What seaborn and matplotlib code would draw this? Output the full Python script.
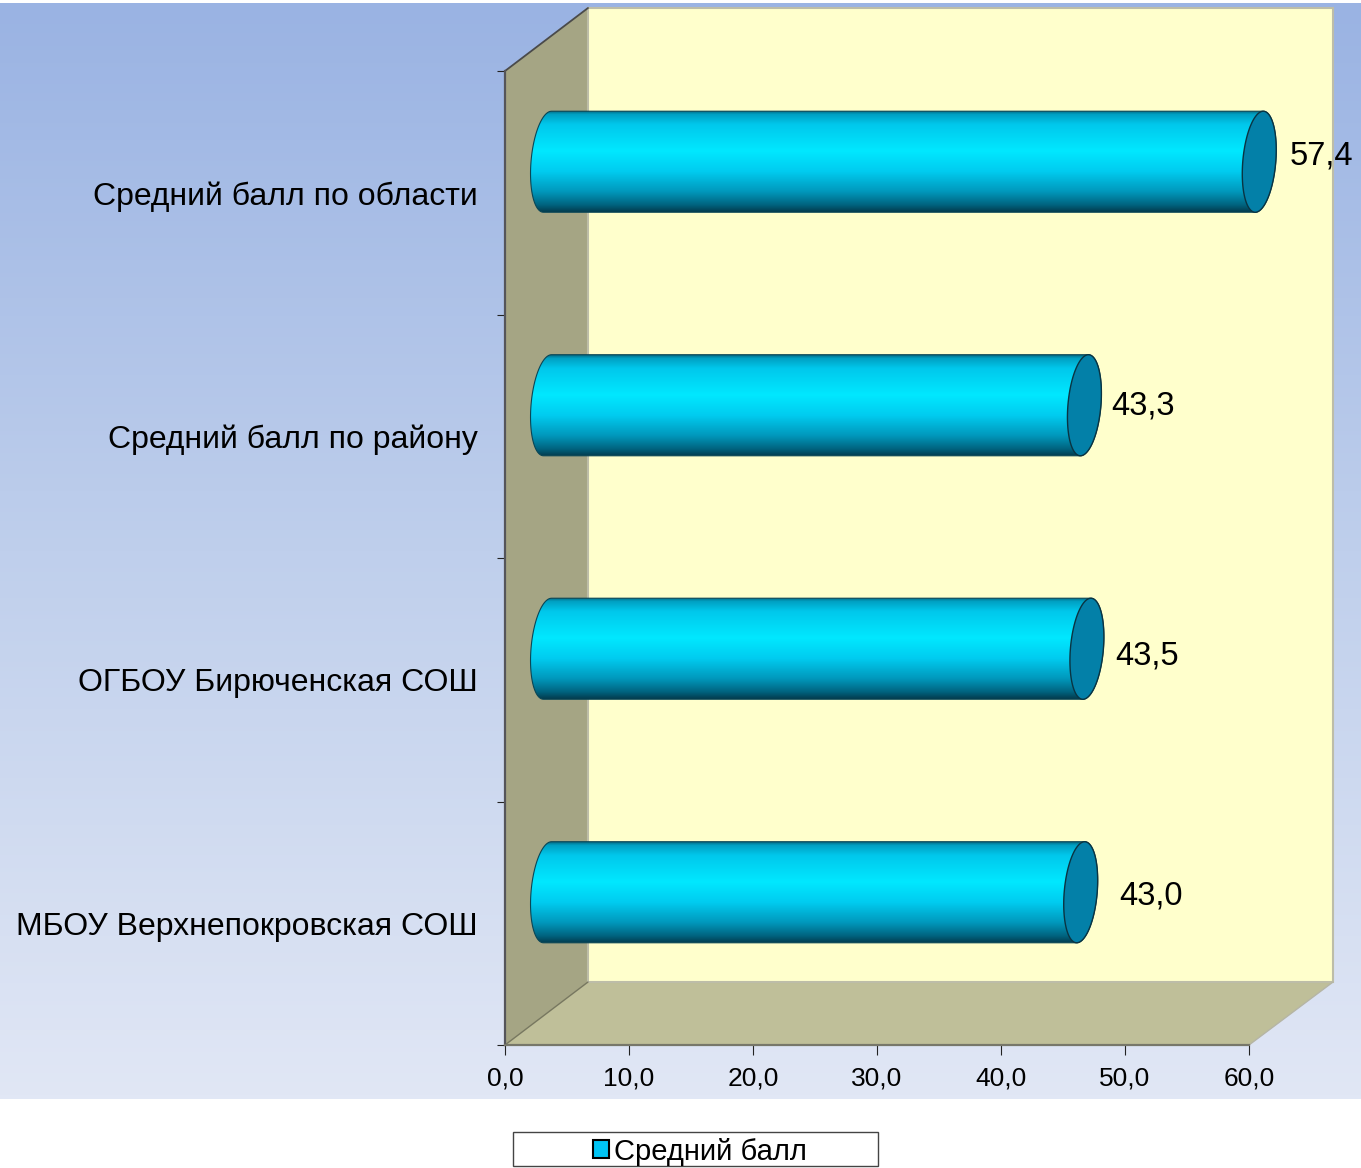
#!/usr/bin/env python3
# -*- coding: utf-8 -*-
"""Horizontal cylinder chart on a fake 3D box, average scores."""

import numpy as np
import pandas as pd
from matplotlib import pyplot as plt
from matplotlib.colors import LinearSegmentedColormap
from matplotlib.patches import Patch, Polygon, Rectangle
from matplotlib.path import Path
import seaborn as sns

# data
categories = ["Средний балл по области", "Средний балл по району",
              "ОГБОУ Бирюченская СОШ", "МБОУ Верхнепокровская СОШ"]
scores = [57.4, 43.3, 43.5, 43.0]
series_name = "Средний балл"
x_ticks = [0, 10, 20, 30, 40, 50, 60]
x_tick_labels = ["0,0", "10,0", "20,0", "30,0", "40,0", "50,0", "60,0"]

# hand placed label offsets in pixels (x from bar value, y from band centre)
label_dx = [73, 69.5, 70.5, 81.5]
label_dy = [-36.5, -30.5, -23.5, -27]

W, H = 1361, 1168
FONT = "Liberation Sans"

sns.set_style("white")
plt.rcParams["font.family"] = [FONT, "DejaVu Sans"]
plt.rcParams["text.color"] = "black"
plt.rcParams["xtick.labelcolor"] = "black"
plt.rcParams["ytick.labelcolor"] = "black"

fig = plt.figure(figsize=(W / 100, H / 100), dpi=100, facecolor="white")

# background layer in pixel coordinates
bg = fig.add_axes([0, 0, 1, 1], zorder=0)
bg.set_xlim(0, W)
bg.set_ylim(H, 0)
bg.set_autoscale_on(False)
bg.axis("off")

sky = LinearSegmentedColormap.from_list("sky", ["#9AB3E3", "#BFCFEC", "#E1E7F5"])
bg.imshow(np.linspace(0, 1, 256).reshape(-1, 1), cmap=sky, aspect="auto",
          extent=(0, W, 1099, 3), zorder=0)

# box walls
bg.add_patch(Polygon([(505, 71), (588, 8), (588, 982), (505, 1045)], closed=True,
                     facecolor="#A5A584", edgecolor="none", zorder=1))
bg.add_patch(Polygon([(505, 1045), (588, 982), (1333, 982), (1249, 1045)], closed=True,
                     facecolor="#BFBF99", edgecolor="none", zorder=1))
bg.add_patch(Polygon([(588, 8), (1333, 8), (1333, 982), (588, 982)], closed=True,
                     facecolor="#FFFFCC", edgecolor="#BDBDA8", lw=1.5, zorder=2))
bg.plot([505, 588], [71, 8], color="#4A4A4A", lw=1.3, zorder=3)
bg.plot([505, 588], [1045, 982], color="#77775F", lw=1, zorder=3)
bg.plot([1249, 1333], [1045, 982], color="#B5B5A5", lw=1, zorder=3)

# legend box
bg.add_patch(Rectangle((513, 1132), 365, 34, facecolor="white", edgecolor="#444444",
                       lw=1, zorder=1))

# real axes, bars come from seaborn
ax = fig.add_axes([505 / W, 1 - 1045 / H, 744 / W, 974 / H], zorder=1)
ax.patch.set_alpha(0)
df = pd.DataFrame({"category": categories, "score": scores})
sns.barplot(data=df, x="score", y="category", orient="h", width=0.415, ax=ax)
ax.set_xlim(0, 60)
ax.set_ylim(3.5, -0.5)
ax.set_xlabel("")
ax.set_ylabel("")

ax.set_xticks(x_ticks)
ax.set_xticklabels(x_tick_labels, fontsize=19)
ax.set_yticks(range(len(categories)))
ax.set_yticklabels(categories, fontsize=23)
ax.set_yticks(np.arange(-0.5, len(categories)), minor=True)
ax.tick_params(axis="x", which="major", length=7, width=0.8, color="#222222", pad=8.5, bottom=True)
ax.tick_params(axis="y", which="major", length=0, pad=19.5)
ax.tick_params(axis="y", which="minor", length=5.5, width=0.8, color="#222222", left=True)

sns.despine(ax=ax, top=True, right=True)
ax.spines["left"].set_color("#55555A")
ax.spines["left"].set_linewidth(1.6)
ax.spines["bottom"].set_color("#77776A")
ax.spines["bottom"].set_linewidth(1.6)

# cylinders on top, also in pixel coordinates
over = fig.add_axes([0, 0, 1, 1], zorder=2)
over.set_xlim(0, W)
over.set_ylim(H, 0)
over.set_autoscale_on(False)
over.axis("off")
over.patch.set_alpha(0)

shine = LinearSegmentedColormap.from_list("shine", [
    (0.00, "#055F76"), (0.04, "#00A0C2"), (0.14, "#00C8EC"), (0.40, "#00E8FF"),
    (0.60, "#00CCF0"), (0.80, "#0098BC"), (0.93, "#006480"), (1.00, "#033C4E")])


def to_px(x, y):
    px = ax.transData.transform((x, y))
    return over.transData.inverted().transform(px)


def ellipse(cx, cy, ry, t):
    rx, shear = 16.5, 4
    return np.column_stack([cx + rx * np.cos(t) - shear * np.sin(t), cy + ry * np.sin(t)])


fig.canvas.draw()
DX, DY = 42.5, -31
for p in ax.patches:
    x0, y_mid = to_px(0, p.get_y() + p.get_height() / 2)
    x1, _ = to_px(p.get_width(), p.get_y() + p.get_height() / 2)
    _, y_a = to_px(0, p.get_y())
    _, y_b = to_px(0, p.get_y() + p.get_height())
    ry = abs(y_b - y_a) / 2
    left_c, right_c, cy = x0 + DX, x1 + DX, y_mid + DY

    left = ellipse(left_c, cy, ry, np.linspace(-np.pi / 2, -3 * np.pi / 2, 60))
    right = ellipse(right_c, cy, ry, np.linspace(np.pi / 2, -np.pi / 2, 60))
    outline = np.vstack([left, right])

    img = over.imshow(np.linspace(0, 1, 256).reshape(-1, 1), cmap=shine, aspect="auto",
                      extent=(left_c - 30, right_c + 30, cy + ry, cy - ry), zorder=2)
    img.set_clip_path(Path(outline), transform=over.transData)
    over.add_patch(Polygon(outline, closed=True, facecolor="none", edgecolor="#0A4656",
                           lw=0.8, zorder=3))
    cap = ellipse(right_c, cy, ry, np.linspace(0, 2 * np.pi, 120))
    over.add_patch(Polygon(cap, closed=True, facecolor="#0380A8", edgecolor="#0A3442",
                           lw=1.0, zorder=4))
    p.set_visible(False)

# value labels
for i, v in enumerate(scores):
    ax.annotate(f"{v:.1f}".replace(".", ","), xy=(v, i),
                xytext=(label_dx[i] * 0.72, -label_dy[i] * 0.72), textcoords="offset points",
                ha="left", va="center", fontsize=23.5, color="black",
                annotation_clip=False, zorder=10)

# legend
fig.legend(handles=[Patch(facecolor="#00C4F4", edgecolor="black", lw=1.5, label=series_name)],
           loc="center", bbox_to_anchor=(700 / W, 1 - 1151.5 / H), frameon=False,
           fontsize=21, handlelength=0.55, handleheight=0.55, handletextpad=0.18,
           borderpad=0)

fig.savefig("out.png", dpi=100)
